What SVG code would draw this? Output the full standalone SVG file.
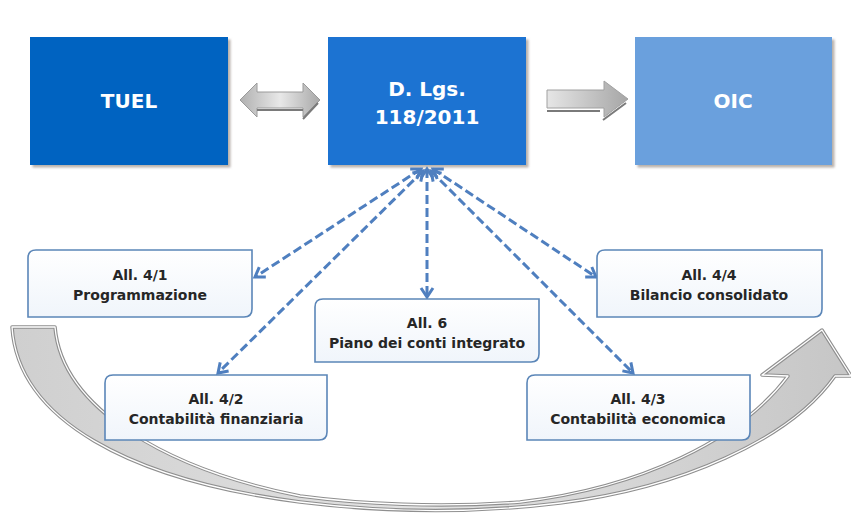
<svg xmlns="http://www.w3.org/2000/svg" width="851" height="513" viewBox="0 0 851 513">
<style>
.top{font-family:"DejaVu Sans","Liberation Sans",sans-serif;font-weight:bold;font-size:20px;fill:#ffffff;text-anchor:middle}
.lbl{font-family:"DejaVu Sans","Liberation Sans",sans-serif;font-weight:bold;font-size:14px;fill:#262626;text-anchor:middle}
.box{fill:url(#boxg);stroke:#5b86b8;stroke-width:1.6}
.conn{fill:none;stroke:#4f7fbf;stroke-width:3;stroke-dasharray:9 4;marker-start:url(#ah);marker-end:url(#ah)}
</style>
<defs>
<linearGradient id="boxg" x1="0" y1="0" x2="0" y2="1">
<stop offset="0" stop-color="#ffffff"/><stop offset="1" stop-color="#f0f5fb"/>
</linearGradient>
<linearGradient id="grayL" x1="0" y1="0" x2="1" y2="0">
<stop offset="0" stop-color="#e6e6e6"/><stop offset="1" stop-color="#a6a6a6"/>
</linearGradient>
<linearGradient id="grayD" x1="0" y1="0" x2="1" y2="0">
<stop offset="0" stop-color="#b0b0b0"/><stop offset="0.5" stop-color="#e8e8e8"/><stop offset="1" stop-color="#a8a8a8"/>
</linearGradient>
<linearGradient id="curveg" x1="0" y1="0" x2="1" y2="0">
<stop offset="0" stop-color="#cfcfcf"/><stop offset="0.5" stop-color="#e3e3e3"/><stop offset="1" stop-color="#c6c6c6"/>
</linearGradient>
<filter id="sh" x="-5%" y="-5%" width="115%" height="120%">
<feDropShadow dx="2.5" dy="2.5" stdDeviation="1" flood-color="#8a7f75" flood-opacity="0.6"/>
</filter>
<marker id="ah" markerUnits="userSpaceOnUse" markerWidth="16" markerHeight="16" refX="12" refY="8" orient="auto-start-reverse">
<path d="M3,2 L12,8 L3,14" fill="none" stroke="#4f7fbf" stroke-width="3"/>
</marker>
</defs>

<g id="cycle-arrow">
<path d="M12,327 C18,420 130,480 300,502 C380,512 470,514 560,503 C680,488 790,440 835,376 L851,376 L822,330 L762,375 L788,376 C740,440 640,488 520,502 C440,508 360,504 300,496 C170,470 62,410 55,327 Z" fill="url(#curveg)" stroke="#8f8f8f" stroke-width="3.5" stroke-linejoin="round"/>
<path d="M12,327 C18,420 130,480 300,502 C380,512 470,514 560,503 C680,488 790,440 835,376 L851,376 L822,330 L762,375 L788,376 C740,440 640,488 520,502 C440,508 360,504 300,496 C170,470 62,410 55,327 Z" fill="none" stroke="#ffffff" stroke-width="1.3" stroke-linejoin="round"/>
</g>

<g id="tuel">
<rect x="30" y="37" width="198" height="128" fill="#0563c1" filter="url(#sh)"/>
<text class="top" x="129" y="108">TUEL</text>
</g>
<g id="dlgs">
<rect x="328" y="37" width="198" height="128" fill="#1f73d2" filter="url(#sh)"/>
<text class="top" x="427" y="96">D. Lgs.</text>
<text class="top" x="427" y="124">118/2011</text>
</g>
<g id="oic">
<rect x="635" y="37" width="197" height="128" fill="#6aa0dd" filter="url(#sh)"/>
<text class="top" x="733" y="108">OIC</text>
</g>

<g id="arrow-tuel-dlgs">
<path d="M240,100 L257,83 L257,92 L303,92 L303,83 L320,100 L303,117 L303,108 L257,108 L257,117 Z" fill="url(#grayD)" stroke="#9a9a9a" stroke-width="1"/>
<path d="M257,110 L303,110 M303,119 L318,103" stroke="#7a7a7a" stroke-width="2" fill="none"/>
</g>
<g id="arrow-dlgs-oic">
<path d="M547,90 L604,90 L604,81 L628,99 L604,117 L604,108 L547,108 Z" fill="url(#grayL)" stroke="#a0a0a0" stroke-width="1"/>
<path d="M547,111 L600,111 M603,120 L626,103" stroke="#7a7a7a" stroke-width="2" fill="none"/>
</g>

<g id="connectors">
<line class="conn" x1="421" y1="169" x2="255" y2="277"/>
<line class="conn" x1="423" y1="171" x2="218" y2="373"/>
<line class="conn" x1="427" y1="169" x2="427" y2="297"/>
<line class="conn" x1="433" y1="169" x2="596" y2="277"/>
<line class="conn" x1="431" y1="171" x2="633" y2="373"/>
</g>

<g id="all41">
<path class="box" d="M36,250 H252 V309 Q252,317 244,317 H28 V258 Q28,250 36,250 Z"/>
<text class="lbl" x="140" y="280">All. 4/1</text>
<text class="lbl" x="140" y="300">Programmazione</text>
</g>
<g id="all6">
<path class="box" d="M323,299 H539 V354 Q539,362 531,362 H315 V307 Q315,299 323,299 Z"/>
<text class="lbl" x="427" y="328">All. 6</text>
<text class="lbl" x="427" y="348">Piano dei conti integrato</text>
</g>
<g id="all44">
<path class="box" d="M605,250 H822 V309 Q822,317 814,317 H597 V258 Q597,250 605,250 Z"/>
<text class="lbl" x="709" y="280">All. 4/4</text>
<text class="lbl" x="709" y="300">Bilancio consolidato</text>
</g>
<g id="all42">
<path class="box" d="M113,375 H327 V432 Q327,440 319,440 H105 V383 Q105,375 113,375 Z"/>
<text class="lbl" x="216" y="404">All. 4/2</text>
<text class="lbl" x="216" y="424">Contabilità finanziaria</text>
</g>
<g id="all43">
<path class="box" d="M535,375 H750 V432 Q750,440 742,440 H527 V383 Q527,375 535,375 Z"/>
<text class="lbl" x="638" y="404">All. 4/3</text>
<text class="lbl" x="638" y="424">Contabilità economica</text>
</g>
</svg>
